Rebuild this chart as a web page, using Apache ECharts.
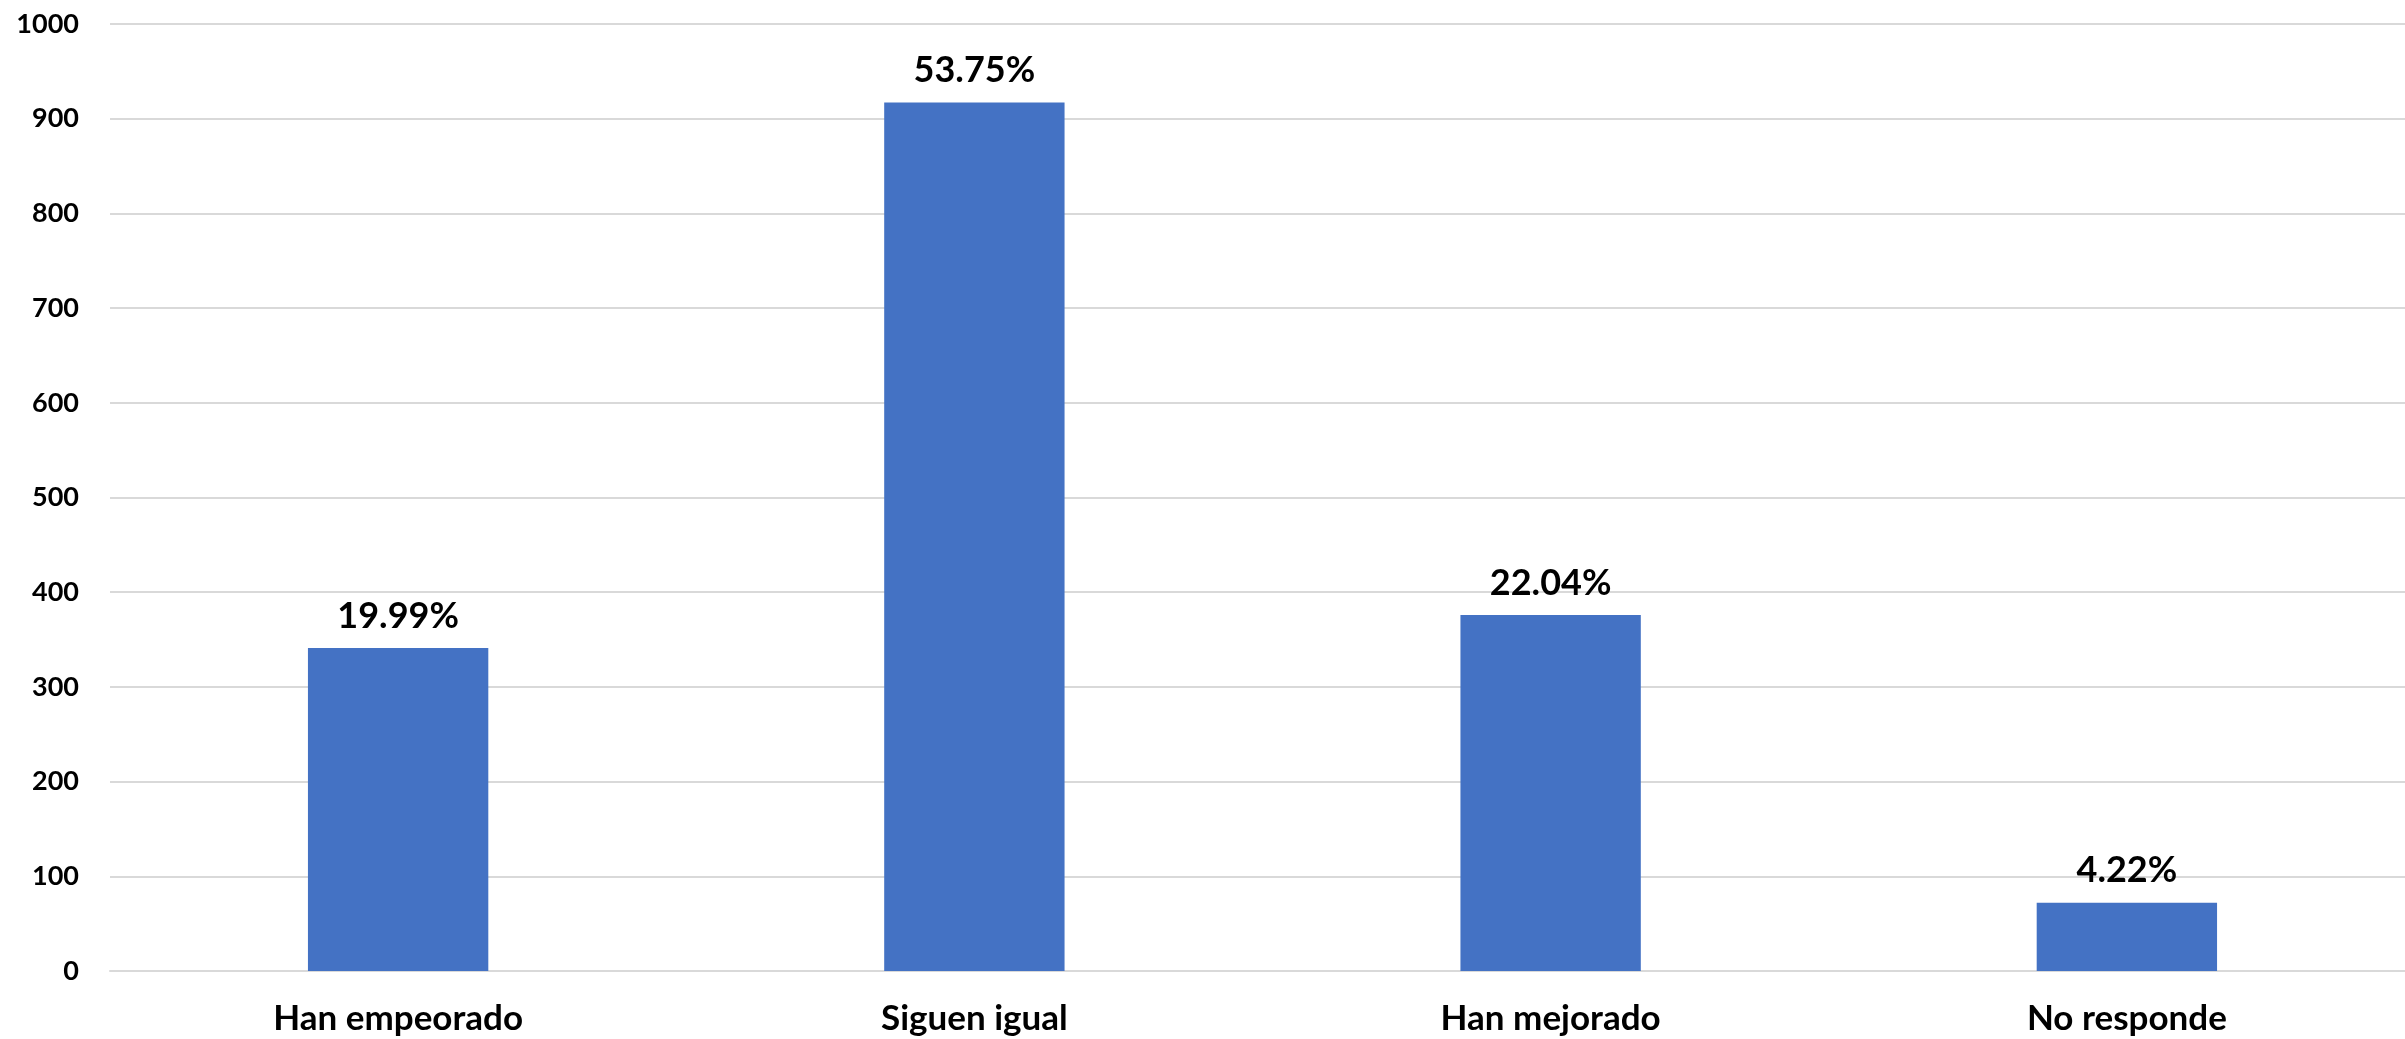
<!DOCTYPE html>
<html>
<head>
<meta charset="utf-8">
<script src="https://cdn.jsdelivr.net/npm/echarts@6/dist/echarts.min.js"></script>
<style>
html,body{margin:0;padding:0;background:#fff;overflow:hidden;width:2405px;height:1039px;}
#chart{width:2415px;height:1039px;}
</style>
</head>
<body>
<div id="chart"></div>
<script>
const categories = ["Han empeorado", "Siguen igual", "Han mejorado", "No responde"];
const counts = [341, 917, 376, 72];
const percentLabels = ["19.99%", "53.75%", "22.04%", "4.22%"];
const yTicks = {min: 0, max: 1000, interval: 100};

const chart = echarts.init(document.getElementById('chart'));
chart.setOption({
  animation: false,
  backgroundColor: '#ffffff',
  grid: {left: 110, right: 0, top: 24, bottom: 68, containLabel: false},
  xAxis: {
    type: 'category',
    data: categories,
    axisLine: {show: true, lineStyle: {color: '#d9d9d9', width: 2}},
    axisTick: {show: false},
    axisLabel: {
      color: '#000', fontFamily: 'Lato', fontWeight: 'bold', fontSize: 35, margin: 30
    }
  },
  yAxis: {
    type: 'value',
    min: yTicks.min, max: yTicks.max, interval: yTicks.interval,
    axisLine: {show: false},
    axisTick: {show: false},
    splitLine: {lineStyle: {color: '#d9d9d9', width: 2}},
    axisLabel: {
      color: '#000', fontFamily: 'Lato', fontWeight: 'bold', fontSize: 27, margin: 31,
      formatter: v => String(v)
    }
  },
  series: [{
    type: 'bar',
    data: counts,
    barWidth: '31.3%',
    itemStyle: {color: '#4472C4'},
    label: {
      show: true, position: 'top', distance: 14,
      color: '#000', fontFamily: 'Lato', fontWeight: 'bold', fontSize: 36,
      formatter: p => percentLabels[p.dataIndex]
    }
  }]
});
</script>
</body>
</html>
